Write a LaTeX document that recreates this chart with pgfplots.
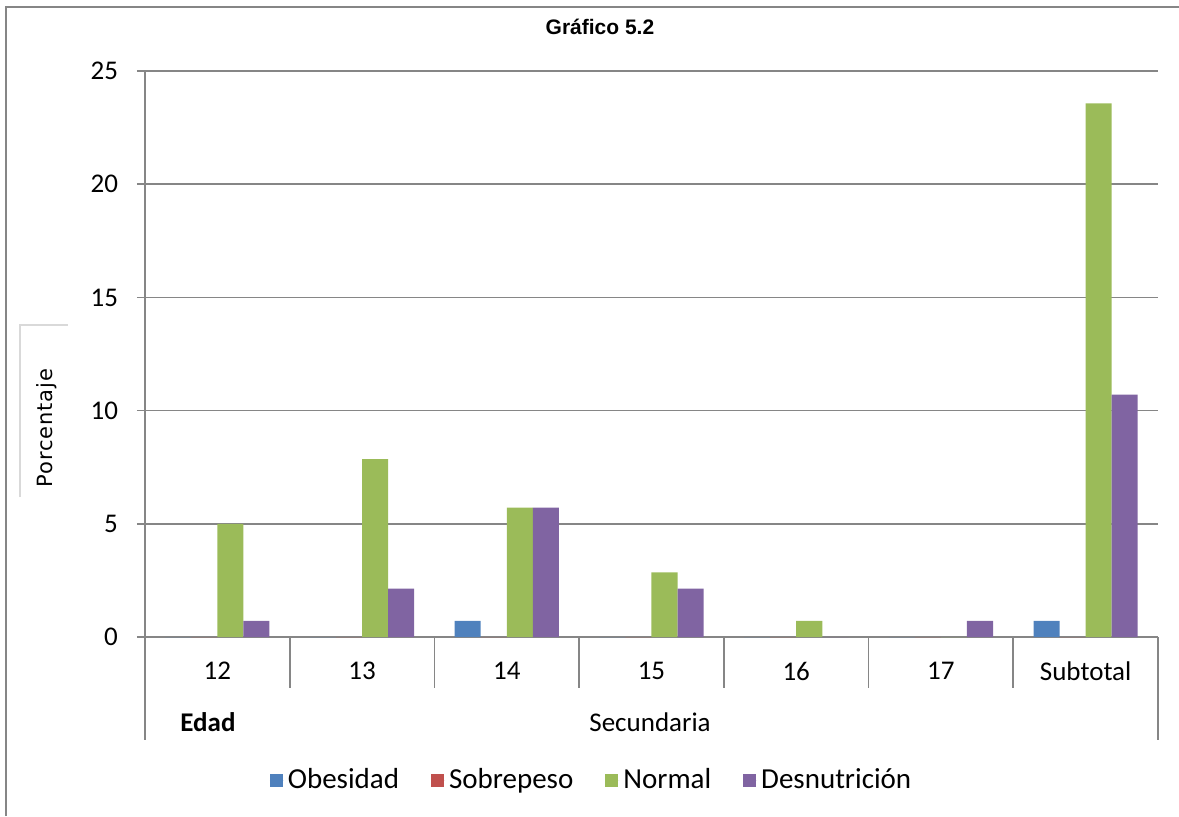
\documentclass[border=0pt]{standalone}
\usepackage{pgfplots}
\pgfplotsset{compat=1.18}
\usepackage{fontspec}
\setmainfont{Carlito}
\newfontfamily\arialfont{Liberation Sans}
\newfontfamily\verdanafont[LetterSpace=4]{DejaVu Sans}
\definecolor{cObe}{HTML}{4F81BD}
\definecolor{cSob}{HTML}{C0504D}
\definecolor{cNor}{HTML}{9BBB59}
\definecolor{cDes}{HTML}{8064A2}
\definecolor{axgray}{HTML}{868686}
\definecolor{boxgray}{HTML}{D9D9D9}
\begin{document}
\begin{tikzpicture}
\useasboundingbox (0,0) rectangle (589.5pt,408pt);
% outer chart border
\draw[axgray, line width=0.8pt] (3pt,0) -- (3pt,404.5pt) -- (589.5pt,404.5pt);
% title
\node[font=\arialfont\bfseries\fontsize{10.5}{12}\selectfont] at (300pt,394.5pt) {Gráfico 5.2};
% y label frame and text
\draw[boxgray, line width=0.8pt] (10pt,159.5pt) -- (10pt,245.5pt) -- (34pt,245.5pt);
\node[rotate=90, font=\verdanafont\fontsize{10.5}{12}\selectfont] at (23.5pt,194pt) {Porcentaje};
\begin{axis}[
  at={(72.5pt,89.5pt)}, anchor=south west,
  scale only axis, width=506.5pt, height=283pt,
  ybar=0pt, bar width=0.18,
  xmin=-0.5, xmax=6.5, ymin=0, ymax=25,
  axis lines*=left,
  axis line style={axgray, line width=0.8pt},
  xtick={0,1,2,3,4,5,6},
  xticklabels={12,13,14,15,16,17,Subtotal},
  xtick style={draw=none},
  ytick={0,5,10,15,20,25},
  ytick style={axgray, line width=0.8pt},
  tick align=outside, major tick length=4pt,
  ymajorgrids, grid style={axgray, line width=0.8pt},
  tick label style={font=\fontsize{13.5}{16}\selectfont},
  /pgf/number format/assume math mode=true,
  xticklabel style={anchor=center, yshift=-13pt},
  yticklabel style={xshift=-6pt},
  legend columns=4,
  legend style={at={(0.4418,0)}, anchor=center, yshift=-71.5pt, draw=none,
    font=\fontsize{14.5}{17}\selectfont,
    /tikz/every even column/.append style={column sep=14pt}},
  legend image code/.code={\fill[#1] (0pt,-3.25pt) rectangle (6.5pt,3.25pt); \path (0pt,0pt) -- (7pt,0pt);},
  clip=false,
]
\addplot[fill=cObe, draw=none] coordinates {(0,0) (1,0) (2,0.71) (3,0) (4,0) (5,0) (6,0.71)};
\addplot[fill=cSob, draw=none] coordinates {(0,0) (1,0) (2,0) (3,0) (4,0) (5,0) (6,0)};
\addplot[fill=cNor, draw=none] coordinates {(0,5.0) (1,7.86) (2,5.71) (3,2.86) (4,0.71) (5,0) (6,23.57)};
\addplot[fill=cDes, draw=none] coordinates {(0,0.71) (1,2.14) (2,5.71) (3,2.14) (4,0) (5,0.71) (6,10.71)};
\legend{Obesidad,Sobrepeso,Normal,Desnutrición}
\foreach \s in {0.5,1.5,2.5,3.5,4.5,5.5} {
  \edef\tmp{\noexpand\draw[axgray, line width=0.8pt] (axis cs:\s,0) -- ([yshift=-25.5pt]axis cs:\s,0);}\tmp
}
\draw[axgray, line width=0.8pt] (axis cs:-0.5,0) -- ([yshift=-51.5pt]axis cs:-0.5,0);
\draw[axgray, line width=0.8pt] (axis cs:6.5,0) -- ([yshift=-51.5pt]axis cs:6.5,0);
\node[font=\bfseries\fontsize{13.5}{16}\selectfont] at (axis cs:-0.065,0) [yshift=-42.5pt] {Edad};
\node[font=\fontsize{13.5}{16}\selectfont] at (axis cs:2.99,0) [yshift=-42.5pt] {Secundaria};
\end{axis}
\end{tikzpicture}
\end{document}
